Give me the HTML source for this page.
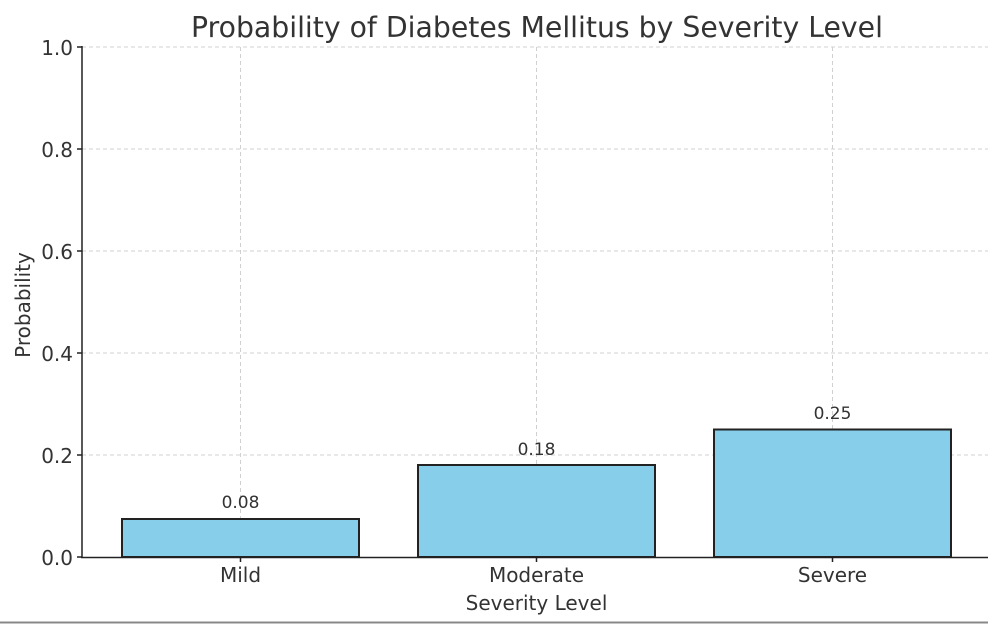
<!DOCTYPE html>
<html><head><style>body{margin:0;background:#fff}svg{display:block}text{font-family:"DejaVu Sans","Liberation Sans",sans-serif;fill:#333}</style></head>
<body>
<svg width="988" height="624" viewBox="0 0 988 624" xmlns="http://www.w3.org/2000/svg">
<rect width="988" height="624" fill="#fff"/>
<g stroke="#d0d0d0" stroke-width="1" stroke-dasharray="4,3">
<line x1="82" y1="47" x2="988" y2="47"/>
<line x1="82" y1="149" x2="988" y2="149"/>
<line x1="82" y1="251" x2="988" y2="251"/>
<line x1="82" y1="353" x2="988" y2="353"/>
<line x1="82" y1="455" x2="988" y2="455"/>
<line x1="240.5" y1="47" x2="240.5" y2="557"/>
<line x1="536.5" y1="47" x2="536.5" y2="557"/>
<line x1="832.5" y1="47" x2="832.5" y2="557"/>
</g>
<g fill="#87ceeb" stroke="#222" stroke-width="2">
<rect x="122" y="519" width="237" height="38"/>
<rect x="418" y="465" width="237" height="92"/>
<rect x="714" y="429.5" width="237" height="127.5"/>
</g>
<g stroke="#222" stroke-width="1.5">
<line x1="82" y1="46" x2="82" y2="557.5"/>
<line x1="81" y1="557.5" x2="988" y2="557.5"/>
<line x1="77" y1="47" x2="82" y2="47"/><line x1="77" y1="149" x2="82" y2="149"/><line x1="77" y1="251" x2="82" y2="251"/><line x1="77" y1="353" x2="82" y2="353"/><line x1="77" y1="455" x2="82" y2="455"/><line x1="77" y1="557" x2="82" y2="557"/>
<line x1="240.5" y1="557" x2="240.5" y2="562"/><line x1="536.5" y1="557" x2="536.5" y2="562"/><line x1="832.5" y1="557" x2="832.5" y2="562"/>
</g>
<g font-size="20" text-anchor="end">
<text x="73" y="55">1.0</text><text x="73" y="157">0.8</text><text x="73" y="259">0.6</text><text x="73" y="361">0.4</text><text x="73" y="463">0.2</text><text x="73" y="565">0.0</text>
</g>
<g font-size="20" text-anchor="middle">
<text x="240.5" y="582">Mild</text><text x="536.5" y="582">Moderate</text><text x="832.5" y="582">Severe</text>
<text x="536.5" y="610">Severity Level</text>
</g>
<g font-size="17" text-anchor="middle">
<text x="240.5" y="508">0.08</text><text x="536.5" y="455">0.18</text><text x="832.5" y="419">0.25</text>
</g>
<text x="30" y="305" font-size="20" text-anchor="middle" transform="rotate(-90 30 305)">Probability</text>
<text x="537" y="37" font-size="28.3" text-anchor="middle">Probability of Diabetes Mellitus by Severity Level</text>
<line x1="0" y1="622.5" x2="988" y2="622.5" stroke="#888" stroke-width="2"/>
</svg>
</body></html>
